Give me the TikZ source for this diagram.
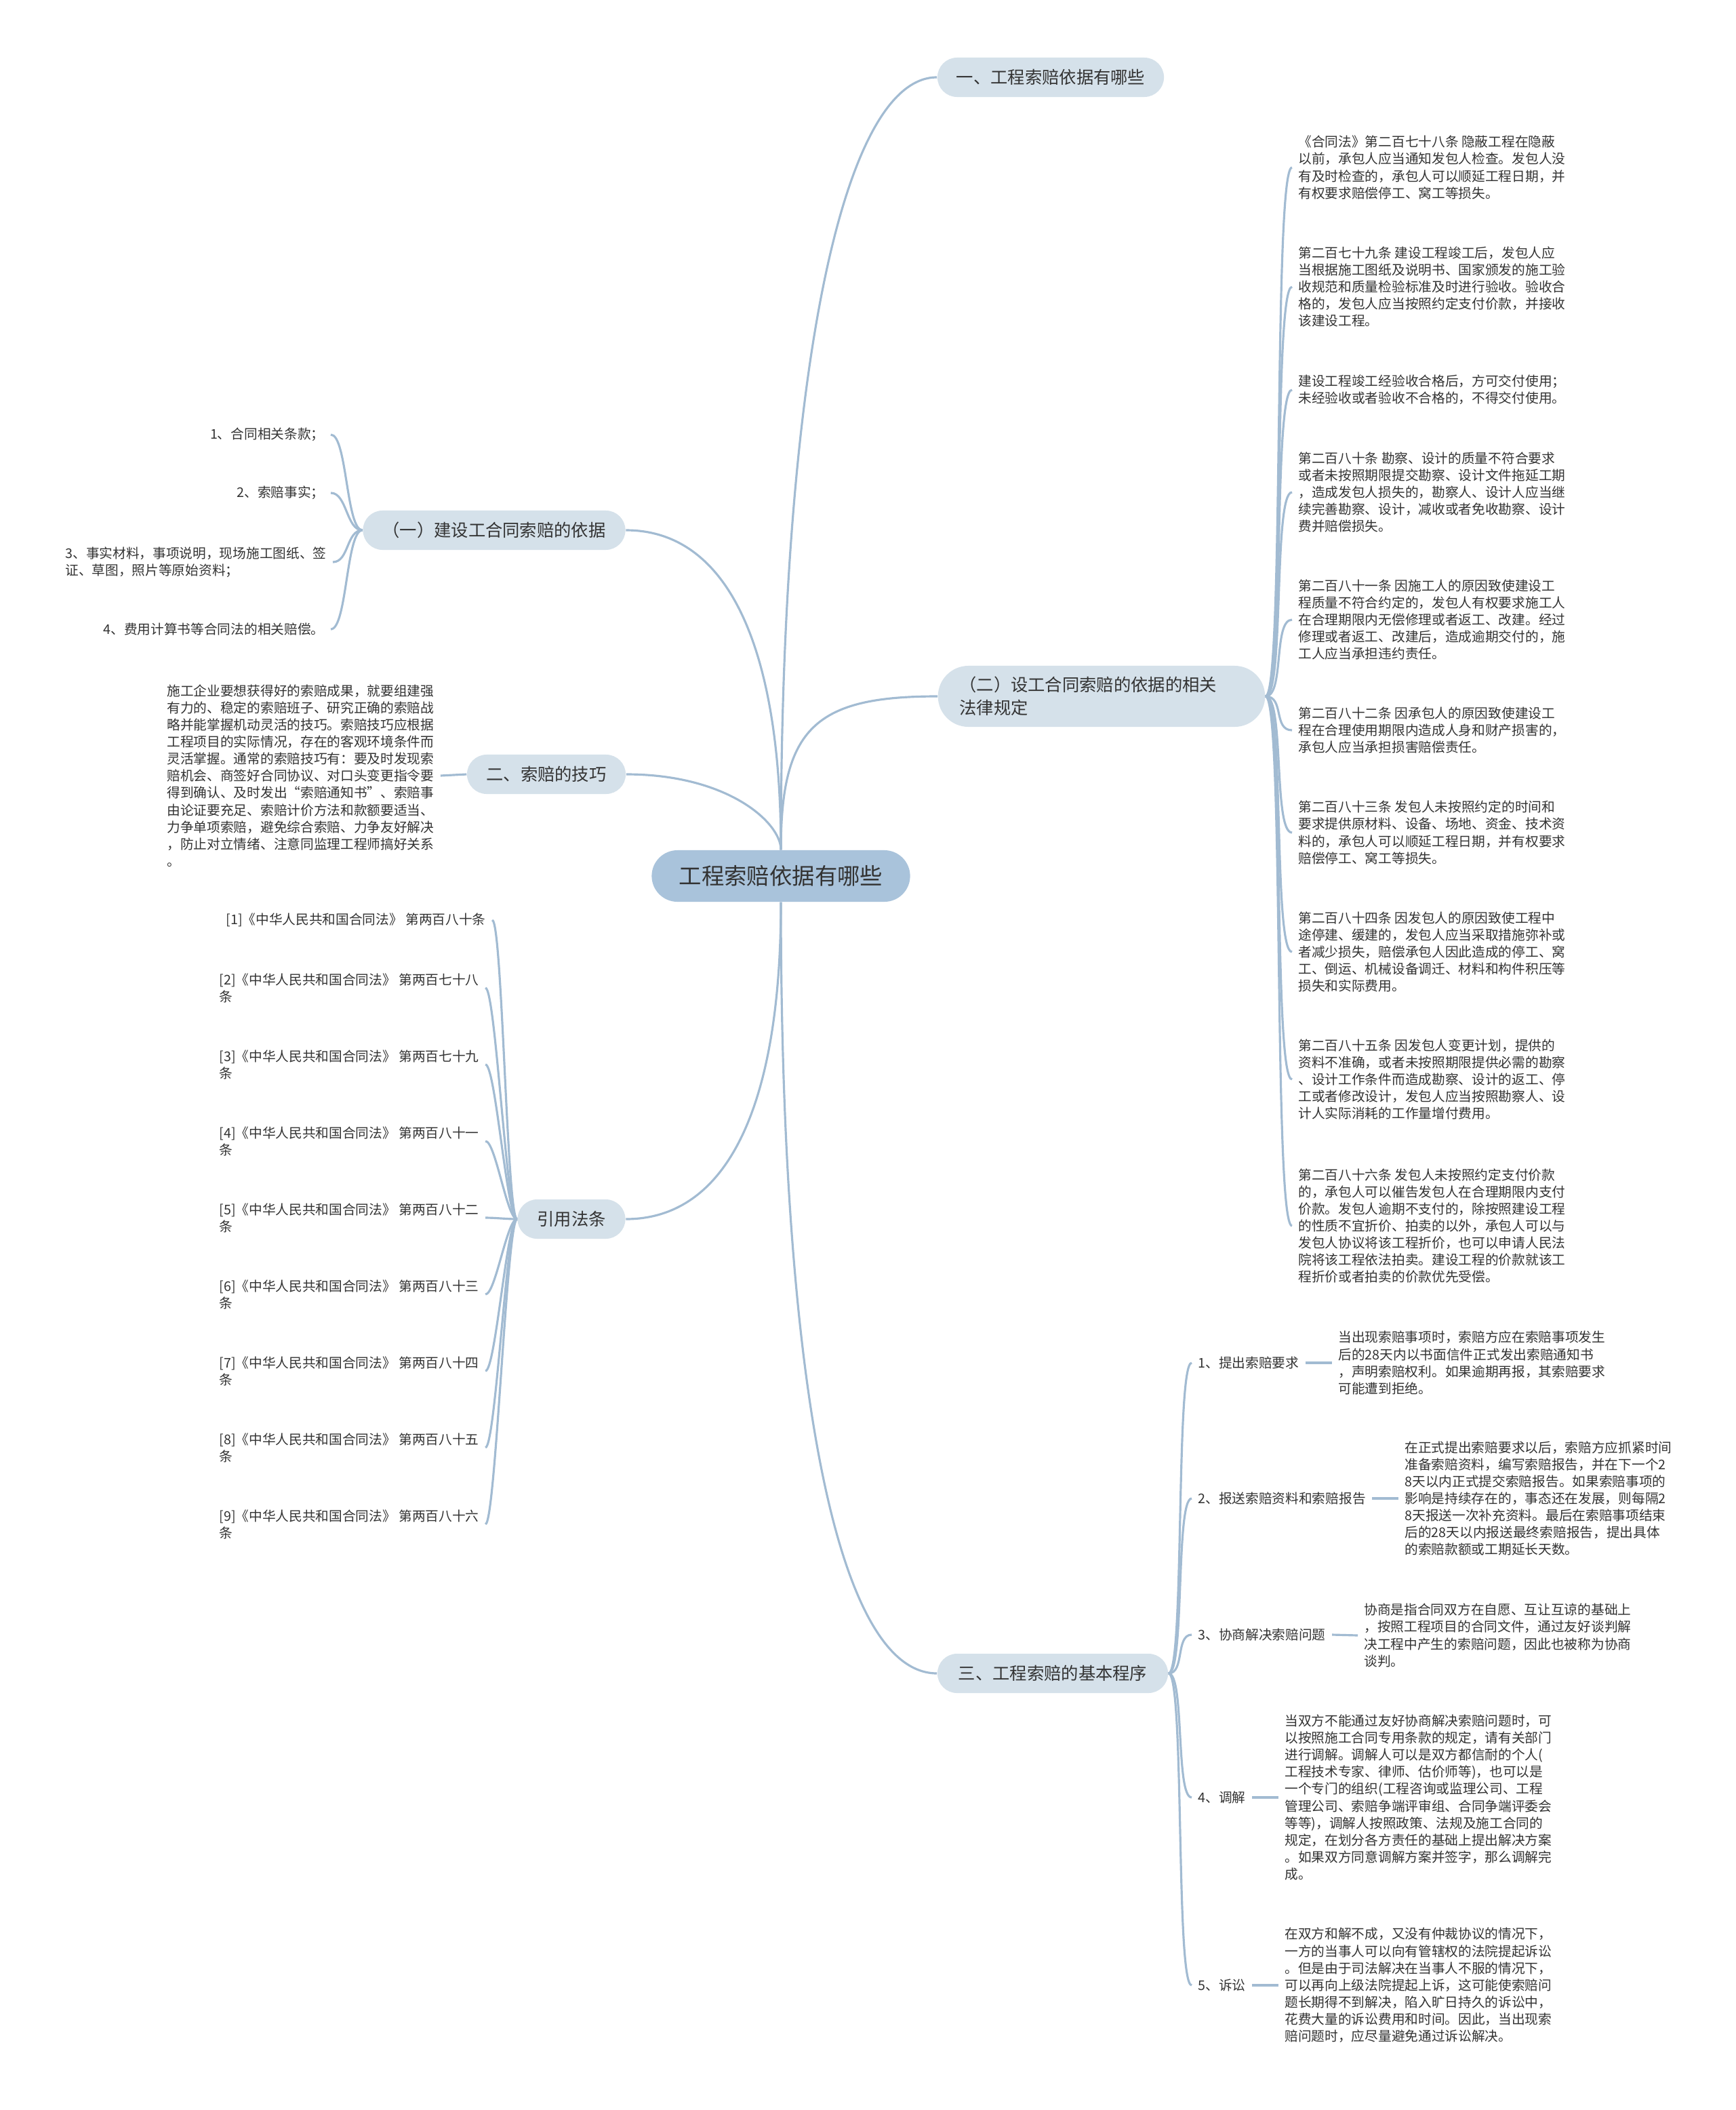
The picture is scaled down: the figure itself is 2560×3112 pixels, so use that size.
\documentclass[tikz,border=0pt]{standalone}
\usepackage{fontspec}
\setmainfont{Noto Sans CJK SC}
\usetikzlibrary{positioning}
\definecolor{linkblue}{HTML}{A2BBD2}
\definecolor{rootfill}{HTML}{A9C3DB}
\definecolor{topicfill}{HTML}{D5E1EA}
\definecolor{inktext}{HTML}{333333}

\begin{document}
\begin{tikzpicture}[
    x=0.01cm, y=-0.01cm,
    rootnode/.style={fill=rootfill, rounded corners=3.8mm, minimum width=3.81cm, minimum height=0.76cm, font=\fontsize{9.5}{11}\selectfont, text=inktext},
    topic/.style={fill=topicfill, rounded corners=2.9mm, minimum height=0.58cm, font=\fontsize{7.2}{9.6}\selectfont, text=inktext},
    textnote/.style={align=left, inner sep=2.5pt, font=\fontsize{5.6}{7.15}\selectfont, text=inktext},
    linkline/.style={draw=linkblue, line width=0.9pt}
]
\path[use as bounding box, fill=white] (0,0) rectangle (2560,3112);

% Root
\node[rootnode] (root) at (1152,1292) {工程索赔依据有哪些};

% Main topics
\node[topic, minimum width=3.34cm] (basis) at (1550,114) {一、工程索赔依据有哪些};
\node[topic, anchor=west, minimum height=0.9cm, rounded corners=4.5mm, inner xsep=9pt, text width=4.19cm, align=left] (laws) at (1383,1027) {（二）设工合同索赔的依据的相关\\法律规定};
\node[topic, minimum width=3.4cm] (proc) at (1553,2468) {三、工程索赔的基本程序};
\node[topic, minimum width=3.87cm] (legal) at (729,782) {（一）建设工合同索赔的依据};
\node[topic, minimum width=2.34cm] (skill) at (806,1142) {二、索赔的技巧};
\node[topic, minimum width=1.59cm] (cite) at (843,1798) {引用法条};

% Root to topics
\draw[linkline] (root.north) .. controls +(0,-700) and +(-140,0) .. (basis.west);
\draw[linkline] (root.north) .. controls +(0,-180) and +(-180,0) .. (laws.west);
\draw[linkline] (root.north) .. controls +(0,-300) and +(150,0) .. (legal.east);
\draw[linkline] (root.north) .. controls +(0,-40) and +(150,0) .. (skill.east);
\draw[linkline] (root.south) .. controls +(0,700) and +(-150,0) .. (proc.west);
\draw[linkline] (root.south) .. controls +(0,300) and +(150,0) .. (cite.east);

% Legal provisions (right column)
\node[textnote, anchor=west] (law278) at (1906,247) {《合同法》第二百七十八条 隐蔽工程在隐蔽\\以前，承包人应当通知发包人检查。发包人没\\有及时检查的，承包人可以顺延工程日期，并\\有权要求赔偿停工、窝工等损失。};
\node[textnote, anchor=west] (law279) at (1906,423) {第二百七十九条 建设工程竣工后，发包人应\\当根据施工图纸及说明书、国家颁发的施工验\\收规范和质量检验标准及时进行验收。验收合\\格的，发包人应当按照约定支付价款，并接收\\该建设工程。};
\node[textnote, anchor=west] (lawuse) at (1906,575) {建设工程竣工经验收合格后，方可交付使用；\\未经验收或者验收不合格的，不得交付使用。};
\node[textnote, anchor=west] (law280) at (1906,726) {第二百八十条 勘察、设计的质量不符合要求\\或者未按照期限提交勘察、设计文件拖延工期\\，造成发包人损失的，勘察人、设计人应当继\\续完善勘察、设计，减收或者免收勘察、设计\\费并赔偿损失。};
\node[textnote, anchor=west] (law281) at (1906,914) {第二百八十一条 因施工人的原因致使建设工\\程质量不符合约定的，发包人有权要求施工人\\在合理期限内无偿修理或者返工、改建。经过\\修理或者返工、改建后，造成逾期交付的，施\\工人应当承担违约责任。};
\node[textnote, anchor=west] (law282) at (1906,1077) {第二百八十二条 因承包人的原因致使建设工\\程在合理使用期限内造成人身和财产损害的，\\承包人应当承担损害赔偿责任。};
\node[textnote, anchor=west] (law283) at (1906,1228) {第二百八十三条 发包人未按照约定的时间和\\要求提供原材料、设备、场地、资金、技术资\\料的，承包人可以顺延工程日期，并有权要求\\赔偿停工、窝工等损失。};
\node[textnote, anchor=west] (law284) at (1906,1404) {第二百八十四条 因发包人的原因致使工程中\\途停建、缓建的，发包人应当采取措施弥补或\\者减少损失，赔偿承包人因此造成的停工、窝\\工、倒运、机械设备调迁、材料和构件积压等\\损失和实际费用。};
\node[textnote, anchor=west] (law285) at (1906,1592) {第二百八十五条 因发包人变更计划，提供的\\资料不准确，或者未按照期限提供必需的勘察\\、设计工作条件而造成勘察、设计的返工、停\\工或者修改设计，发包人应当按照勘察人、设\\计人实际消耗的工作量增付费用。};
\node[textnote, anchor=west] (law286) at (1906,1808) {第二百八十六条 发包人未按照约定支付价款\\的，承包人可以催告发包人在合理期限内支付\\价款。发包人逾期不支付的，除按照建设工程\\的性质不宜折价、拍卖的以外，承包人可以与\\发包人协议将该工程折价，也可以申请人民法\\院将该工程依法拍卖。建设工程的价款就该工\\程折价或者拍卖的价款优先受偿。};

\draw[linkline] (laws.east) .. controls +(28,0) and +(-28,0) .. (law278.west);
\draw[linkline] (laws.east) .. controls +(28,0) and +(-28,0) .. (law279.west);
\draw[linkline] (laws.east) .. controls +(28,0) and +(-28,0) .. (lawuse.west);
\draw[linkline] (laws.east) .. controls +(28,0) and +(-28,0) .. (law280.west);
\draw[linkline] (laws.east) .. controls +(28,0) and +(-28,0) .. (law281.west);
\draw[linkline] (laws.east) .. controls +(28,0) and +(-28,0) .. (law282.west);
\draw[linkline] (laws.east) .. controls +(28,0) and +(-28,0) .. (law283.west);
\draw[linkline] (laws.east) .. controls +(28,0) and +(-28,0) .. (law284.west);
\draw[linkline] (laws.east) .. controls +(28,0) and +(-28,0) .. (law285.west);
\draw[linkline] (laws.east) .. controls +(28,0) and +(-28,0) .. (law286.west);

% Claim procedure (bottom right)
\node[textnote, anchor=west] (proc1) at (1758,2010) {1、提出索赔要求};
\node[textnote, anchor=west] (proc2) at (1758,2210) {2、报送索赔资料和索赔报告};
\node[textnote, anchor=west] (proc3) at (1758,2411) {3、协商解决索赔问题};
\node[textnote, anchor=west] (proc4) at (1758,2651) {4、调解};
\node[textnote, anchor=west] (proc5) at (1758,2928) {5、诉讼};

\node[textnote, anchor=west] (procnote1) at (1965,2010) {当出现索赔事项时，索赔方应在索赔事项发生\\后的28天内以书面信件正式发出索赔通知书\\，声明索赔权利。如果逾期再报，其索赔要求\\可能遭到拒绝。};
\node[textnote, anchor=west] (procnote2) at (2063,2210) {在正式提出索赔要求以后，索赔方应抓紧时间\\准备索赔资料，编写索赔报告，并在下一个2\\8天以内正式提交索赔报告。如果索赔事项的\\影响是持续存在的，事态还在发展，则每隔2\\8天报送一次补充资料。最后在索赔事项结束\\后的28天以内报送最终索赔报告，提出具体\\的索赔款额或工期延长天数。};
\node[textnote, anchor=west] (procnote3) at (2003,2412) {协商是指合同双方在自愿、互让互谅的基础上\\，按照工程项目的合同文件，通过友好谈判解\\决工程中产生的索赔问题，因此也被称为协商\\谈判。};
\node[textnote, anchor=west] (procnote4) at (1886,2651) {当双方不能通过友好协商解决索赔问题时，可\\以按照施工合同专用条款的规定，请有关部门\\进行调解。调解人可以是双方都信耐的个人(\\工程技术专家、律师、估价师等)，也可以是\\一个专门的组织(工程咨询或监理公司、工程\\管理公司、索赔争端评审组、合同争端评委会\\等等)，调解人按照政策、法规及施工合同的\\规定，在划分各方责任的基础上提出解决方案\\。如果双方同意调解方案并签字，那么调解完\\成。};
\node[textnote, anchor=west] (procnote5) at (1886,2928) {在双方和解不成，又没有仲裁协议的情况下，\\一方的当事人可以向有管辖权的法院提起诉讼\\。但是由于司法解决在当事人不服的情况下，\\可以再向上级法院提起上诉，这可能使索赔问\\题长期得不到解决，陷入旷日持久的诉讼中，\\花费大量的诉讼费用和时间。因此，当出现索\\赔问题时，应尽量避免通过诉讼解决。};

\draw[linkline] (proc.east) .. controls +(24,0) and +(-24,0) .. (proc1.west);
\draw[linkline] (proc.east) .. controls +(24,0) and +(-24,0) .. (proc2.west);
\draw[linkline] (proc.east) .. controls +(24,0) and +(-24,0) .. (proc3.west);
\draw[linkline] (proc.east) .. controls +(24,0) and +(-24,0) .. (proc4.west);
\draw[linkline] (proc.east) .. controls +(24,0) and +(-24,0) .. (proc5.west);
\draw[linkline] (proc1.east) -- (procnote1.west);
\draw[linkline] (proc2.east) -- (procnote2.west);
\draw[linkline] (proc3.east) -- (procnote3.west);
\draw[linkline] (proc4.east) -- (procnote4.west);
\draw[linkline] (proc5.east) -- (procnote5.west);

% Basis of claims (top left)
\node[textnote, anchor=east] (item1) at (488,641) {1、合同相关条款；};
\node[textnote, anchor=east] (item2) at (488,727) {2、索赔事实；};
\node[textnote, anchor=east] (item3) at (491,829) {3、事实材料，事项说明，现场施工图纸、签\\证、草图，照片等原始资料；};
\node[textnote, anchor=east] (item4) at (488,928) {4、费用计算书等合同法的相关赔偿。};

\draw[linkline] (legal.west) .. controls +(-24,0) and +(24,0) .. (item1.east);
\draw[linkline] (legal.west) .. controls +(-24,0) and +(24,0) .. (item2.east);
\draw[linkline] (legal.west) .. controls +(-24,0) and +(24,0) .. (item3.east);
\draw[linkline] (legal.west) .. controls +(-24,0) and +(24,0) .. (item4.east);

% Claim skills
\node[textnote, anchor=west] (skillnote) at (237,1144) {施工企业要想获得好的索赔成果，就要组建强\\有力的、稳定的索赔班子、研究正确的索赔战\\略并能掌握机动灵活的技巧。索赔技巧应根据\\工程项目的实际情况，存在的客观环境条件而\\灵活掌握。通常的索赔技巧有：要及时发现索\\赔机会、商签好合同协议、对口头变更指令要\\得到确认、及时发出“索赔通知书”、索赔事\\由论证要充足、索赔计价方法和款额要适当、\\力争单项索赔，避免综合索赔、力争友好解决\\，防止对立情绪、注意同监理工程师搞好关系\\。};
\draw[linkline] (skill.west) -- (skillnote.east);

% Cited articles
\node[textnote, anchor=west] (ref1) at (324,1357) {[1]《中华人民共和国合同法》 第两百八十条};
\node[textnote, anchor=west] (ref2) at (314,1457) {[2]《中华人民共和国合同法》 第两百七十八\\条};
\node[textnote, anchor=west] (ref3) at (314,1570) {[3]《中华人民共和国合同法》 第两百七十九\\条};
\node[textnote, anchor=west] (ref4) at (314,1683) {[4]《中华人民共和国合同法》 第两百八十一\\条};
\node[textnote, anchor=west] (ref5) at (314,1796) {[5]《中华人民共和国合同法》 第两百八十二\\条};
\node[textnote, anchor=west] (ref6) at (314,1909) {[6]《中华人民共和国合同法》 第两百八十三\\条};
\node[textnote, anchor=west] (ref7) at (314,2022) {[7]《中华人民共和国合同法》 第两百八十四\\条};
\node[textnote, anchor=west] (ref8) at (314,2135) {[8]《中华人民共和国合同法》 第两百八十五\\条};
\node[textnote, anchor=west] (ref9) at (314,2248) {[9]《中华人民共和国合同法》 第两百八十六\\条};

\draw[linkline] (cite.west) .. controls +(-15,0) and +(15,0) .. (ref1.east);
\draw[linkline] (cite.west) .. controls +(-15,0) and +(15,0) .. (ref2.east);
\draw[linkline] (cite.west) .. controls +(-15,0) and +(15,0) .. (ref3.east);
\draw[linkline] (cite.west) .. controls +(-15,0) and +(15,0) .. (ref4.east);
\draw[linkline] (cite.west) .. controls +(-15,0) and +(15,0) .. (ref5.east);
\draw[linkline] (cite.west) .. controls +(-15,0) and +(15,0) .. (ref6.east);
\draw[linkline] (cite.west) .. controls +(-15,0) and +(15,0) .. (ref7.east);
\draw[linkline] (cite.west) .. controls +(-15,0) and +(15,0) .. (ref8.east);
\draw[linkline] (cite.west) .. controls +(-15,0) and +(15,0) .. (ref9.east);

\end{tikzpicture}
\end{document}
